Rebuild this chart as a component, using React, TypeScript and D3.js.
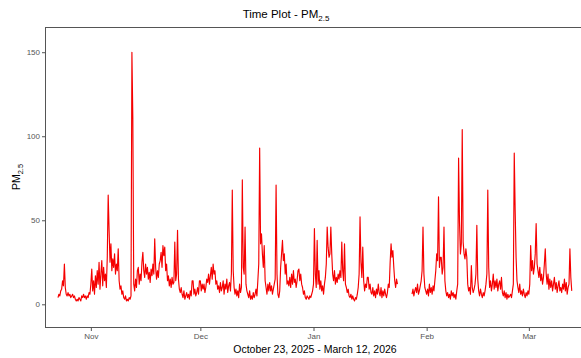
import { useEffect, useRef } from 'react';
import * as d3 from 'd3';

// PM2.5 readings, one row per day starting Oct 23 2025, four readings a day (00, 06, 12, 18 h)
const pm25Daily: (number | null)[][] = [
  [4, 6, 5, 8], [9, 14, 11, 24], [10, 6, 5, 7], [5, 6, 4, 5], [6, 4, 5, 3],
  [2, 3, 2, 4], [3, 2, 5, 4], [6, 4, 5, 3], [5, 4, 7, 6], [12, 21, 8, 14],
  [6, 17, 10, 20], [12, 25, 9, 18], [26, 11, 22, 14], [18, 10, 28, 65], [44, 25, 36, 20],
  [27, 22, 30, 18], [24, 20, 33, 14], [9, 11, 6, 8], [4, 3, 5, 2], [3, 2, 4, 3],
  [5, 150, 111, 12], [8, 15, 10, 20], [22, 12, 18, 14], [25, 31, 20, 16], [24, 18, 22, 15],
  [19, 13, 21, 17], [24, 18, 39, 22], [15, 20, 16, 24], [26, 31, 22, 35], [29, 34, 20, 24],
  [14, 17, 11, 15], [10, 16, 12, 13], [37, 14, 18, 44], [15, 9, 7, 10], [6, 4, 8, 3],
  [5, 7, 4, 6], [3, 8, 5, 14], [14, 6, 9, 5], [7, 10, 6, 14], [14, 8, 12, 9],
  [12, 7, 10, 15], [13, 18, 12, 17], [22, 15, 24, 18], [20, 12, 14, 9], [11, 7, 13, 8],
  [10, 14, 6, 12], [9, 15, 7, 11], [13, 8, 18, 68], [20, 10, 6, 9], [5, 8, 4, 12],
  [7, 10, 74, 22], [18, 46, 12, 8], [6, 4, 8, 3], [5, 3, 7, 4], [6, 9, 5, 14],
  [24, 93, 36, 42], [30, 22, 35, 14], [10, 6, 12, 8], [13, 8, 11, 6], [9, 12, 15, 71],
  [18, 6, 4, 8], [22, 30, 38, 26], [30, 18, 24, 12], [14, 11, 16, 10], [18, 12, 20, 13],
  [15, 10, 14, 20], [21, 14, 18, 12], [10, 6, 8, 4], [3, 5, 4, 3], [5, 4, 6, 8],
  [12, 45, 18, 10], [38, 12, 20, 9], [14, 8, 11, 6], [12, 16, 24, 46], [34, 28, 30, 46],
  [30, 18, 14, 20], [12, 16, 13, 18], [15, 20, 16, 37], [20, 14, 36, 12], [10, 7, 9, 5],
  [4, 6, 3, 5], [3, 2, 4, 3], [6, 10, 18, 52], [25, 16, 34, 14], [8, 12, 10, 16],
  [16, 9, 12, 7], [6, 10, 5, 8], [4, 9, 6, 12], [7, 5, 10, 4], [8, 5, 9, 6],
  [4, 7, 12, 10], [25, 36, 28, 32], [22, 14, 10, 15], [12, null, null, null],
  [null, null, null, null], [null, null, null, null], [null, null, null, null],
  [6, 9, 5, 8], [10, 7, 12, 6], [8, 11, 14, 20], [46, 18, 10, 8], [6, 9, 5, 12],
  [7, 10, 6, 11], [8, 14, 20, 30], [26, 64, 22, 28], [28, 18, 22, 46], [14, 8, 5, 7],
  [4, 6, 3, 8], [5, 7, 4, 6], [3, 8, 12, 87], [49, 30, 36, 104], [37, 30, 27, 33],
  [28, 12, 8, 10], [6, 23, 10, 7], [9, 12, 18, 47], [15, 8, 5, 9], [6, 4, 7, 5],
  [8, 12, 18, 68], [22, 10, 14, 8], [12, 18, 9, 14], [10, 15, 8, 12], [14, 9, 16, 7],
  [5, 8, 4, 7], [3, 6, 4, 5], [6, 4, 8, 12], [90, 56, 28, 14], [10, 7, 12, 6],
  [8, 5, 9, 6], [4, 7, 5, 8], [6, 12, 35, 20], [26, 18, 22, 30], [48, 24, 20, 16],
  [22, 14, 18, 12], [16, 24, 33, 18], [12, 18, 9, 15], [10, 14, 8, 12], [16, 9, 13, 7],
  [11, 14, 8, 10], [7, 12, 9, 15], [8, 13, 6, 10], [12, 33, 16, 8],
];

const yTicks = [0, 50, 100, 150];
const monthTicks = [
  Date.UTC(2025, 10, 1),
  Date.UTC(2025, 11, 1),
  Date.UTC(2026, 0, 1),
  Date.UTC(2026, 1, 1),
  Date.UTC(2026, 2, 1),
];

const START = Date.UTC(2025, 9, 23);
const END = Date.UTC(2026, 2, 12);

export default function App() {
  const svgRef = useRef<SVGSVGElement>(null);
  const width = 581;
  const height = 358;

  useEffect(() => {
    if (!svgRef.current) return;
    const svg = d3.select(svgRef.current);
    svg.selectAll('*').remove();

    const panel = { left: 45, top: 27, right: 600, bottom: 327 };

    const x = d3.scaleUtc().domain([new Date(START), new Date(END)]).range([58, 569]);
    const y = d3.scaleLinear().domain([-13.5, 165]).range([panel.bottom, panel.top]);

    const points = pm25Daily.flatMap((row, d) =>
      row.map((v, i) => ({ t: new Date(START + (d * 24 + i * 6) * 3600e3), v }))
    );

    svg.append('rect')
      .attr('width', width)
      .attr('height', height)
      .attr('fill', '#ffffff');

    // the series
    const line = d3.line<{ t: Date; v: number | null }>()
      .defined((d) => d.v != null)
      .x((d) => x(d.t))
      .y((d) => y(d.v as number));

    svg.append('path')
      .datum(points)
      .attr('d', line)
      .attr('fill', 'none')
      .attr('stroke', '#f50000')
      .attr('stroke-width', 1.15)
      .attr('stroke-linejoin', 'round');

    // panel border
    svg.append('rect')
      .attr('x', panel.left + 0.5)
      .attr('y', panel.top + 0.5)
      .attr('width', panel.right - panel.left)
      .attr('height', panel.bottom - panel.top)
      .attr('fill', 'none')
      .attr('stroke', '#555555')
      .attr('stroke-width', 1);

    // y axis
    const yAxis = svg.append('g')
      .attr('transform', `translate(${panel.left + 0.5},0)`)
      .call(d3.axisLeft(y).tickValues(yTicks).tickSize(3.5).tickPadding(2));
    yAxis.select('.domain').remove();
    yAxis.selectAll('line').attr('stroke', '#555555');
    yAxis.selectAll('text')
      .attr('fill', '#555555')
      .attr('font-size', '8px')
      .attr('font-family', 'Liberation Sans, Arial, sans-serif');

    // x axis
    const xAxis = svg.append('g')
      .attr('transform', `translate(0,${panel.bottom + 0.5})`)
      .call(
        d3.axisBottom(x)
          .tickValues(monthTicks.map((t) => new Date(t)))
          .tickFormat((d) => d3.utcFormat('%b')(d as Date))
          .tickSize(3.5)
          .tickPadding(2)
      );
    xAxis.select('.domain').remove();
    xAxis.selectAll('line').attr('stroke', '#555555');
    xAxis.selectAll('text')
      .attr('fill', '#555555')
      .attr('font-size', '8px')
      .attr('font-family', 'Liberation Sans, Arial, sans-serif');

    // title
    const title = svg.append('text')
      .attr('x', 286)
      .attr('y', 18)
      .attr('text-anchor', 'middle')
      .attr('font-size', '11.5px')
      .attr('font-family', 'Liberation Sans, Arial, sans-serif')
      .attr('fill', '#000000');
    title.append('tspan').text('Time Plot - PM');
    title.append('tspan').attr('font-size', '8px').attr('dy', 3).text('2.5');

    // x title
    svg.append('text')
      .attr('x', 315)
      .attr('y', 352.5)
      .attr('text-anchor', 'middle')
      .attr('font-size', '10.5px')
      .attr('font-family', 'Liberation Sans, Arial, sans-serif')
      .attr('fill', '#000000')
      .text('October 23, 2025 - March 12, 2026');

    // y title
    const yTitle = svg.append('text')
      .attr('transform', `translate(20,177) rotate(-90)`)
      .attr('text-anchor', 'middle')
      .attr('font-size', '10.5px')
      .attr('font-family', 'Liberation Sans, Arial, sans-serif')
      .attr('fill', '#000000');
    yTitle.append('tspan').text('PM');
    yTitle.append('tspan').attr('font-size', '7.5px').attr('dy', 3).text('2.5');
  }, []);

  return (
    <svg
      ref={svgRef}
      width={width}
      height={height}
      style={{ position: 'absolute', left: 0, top: 0 }}
    />
  );
}
